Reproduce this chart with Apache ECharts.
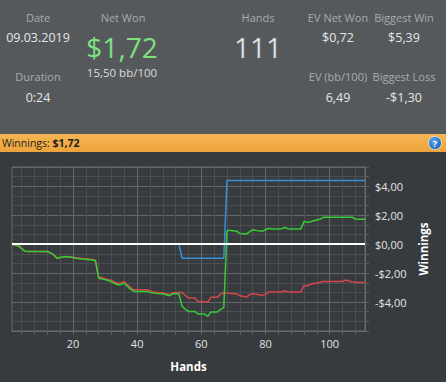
<!DOCTYPE html>
<html><head><meta charset="utf-8">
<script src="https://cdn.jsdelivr.net/npm/echarts@6/dist/echarts.min.js"></script>
<style>html,body{margin:0;padding:0;background:#383b3e;}#c{width:446px;height:382px;}</style>
</head><body><div id="c"></div>
<script>
// ---- data (hand 1..111) ----
const netWon = [0,-0.05,-0.12,-0.3,-0.48,-0.51,-0.51,-0.51,-0.51,-0.51,
-0.51,-0.51,-0.6,-0.74,-0.97,-0.92,-0.88,-0.85,-0.88,-0.92,
-0.97,-1.0,-1.03,-1.05,-1.07,-1.1,-1.15,-2.35,-2.41,-2.45,
-2.51,-2.6,-2.72,-2.8,-2.78,-2.7,-2.92,-3.12,-3.27,-3.27,
-3.27,-3.27,-3.27,-3.33,-3.38,-3.4,-3.42,-3.43,-3.5,-3.57,
-3.43,-3.43,-3.43,-4.3,-4.5,-4.65,-4.65,-4.65,-4.83,-4.83,
-4.83,-4.99,-4.69,-4.69,-4.69,-4.5,-4.38,0.95,0.94,0.92,
0.9,0.74,0.72,0.69,0.85,0.99,0.95,0.92,0.9,1.0,
1.1,1.05,1.05,1.05,1.07,1.15,1.07,1.05,1.05,1.05,
1.05,1.56,1.51,1.55,1.62,1.67,1.72,1.86,1.86,1.86,
1.86,1.86,1.86,1.86,1.86,1.86,1.86,1.74,1.72,1.72,1.72];
const noShowdown = [0,-0.05,-0.12,-0.3,-0.48,-0.51,-0.51,-0.51,-0.51,-0.51,
-0.51,-0.51,-0.6,-0.74,-0.97,-0.92,-0.88,-0.85,-0.88,-0.9,
-0.93,-0.96,-0.99,-1.01,-1.03,-1.06,-1.1,-2.25,-2.3,-2.38,
-2.46,-2.5,-2.62,-2.7,-2.66,-2.6,-2.8,-3.0,-3.15,-3.15,
-3.15,-3.15,-3.15,-3.22,-3.31,-3.33,-3.35,-3.36,-3.43,-3.5,
-3.36,-3.36,-3.34,-3.34,-3.55,-3.72,-3.72,-3.72,-3.96,-3.96,
-3.98,-4.0,-3.66,-3.66,-3.66,-3.45,-3.38,-3.38,-3.4,-3.42,
-3.43,-3.57,-3.6,-3.66,-3.5,-3.43,-3.46,-3.5,-3.54,-3.45,
-3.31,-3.31,-3.31,-3.31,-3.31,-3.22,-3.31,-3.31,-3.31,-3.31,
-3.31,-2.85,-2.88,-2.78,-2.72,-2.69,-2.65,-2.58,-2.58,-2.58,
-2.58,-2.58,-2.58,-2.58,-2.48,-2.55,-2.6,-2.63,-2.65,-2.65,-2.65];
const allInEV = [0,0,0,0,0,0,0,0,0,0,
0,0,0,0,0,0,0,0,0,0,
0,0,0,0,0,0,0,0,0,0,
0,0,0,0,0,0,0,0,0,0,
0,0,0,0,0,0,0,0,0,0,
0,0,0,-0.97,-0.97,-0.97,-0.97,-0.97,-0.97,-0.97,
-0.97,-0.97,-0.97,-0.97,-0.97,-0.97,-0.97,4.4,4.4,4.4,
4.4,4.4,4.4,4.4,4.4,4.4,4.4,4.4,4.4,4.4,
4.4,4.4,4.4,4.4,4.4,4.4,4.4,4.4,4.4,4.4,
4.4,4.4,4.4,4.4,4.4,4.4,4.4,4.4,4.4,4.4,
4.4,4.4,4.4,4.4,4.4,4.4,4.4,4.4,4.4,4.4,4.4];
const xTickLabels = [20,40,60,80,100];
const xMinorTicks = [4,8,12,16,20,24,28,32,36,40,44,48,52,56,60,64,68,72,76,80,84,88,92,96,100,104,108];
const yTickLabels = [-4,-2,0,2,4];

const F = '"Open Sans", "Noto Sans", sans-serif';
const toPairs = arr => arr.map((v, i) => [i + 1, v]);
const money = v => (v < 0 ? '-' : '') + '$' + Math.abs(v).toFixed(2).replace('.', ',');

const chart = echarts.init(document.getElementById('c'), null, {renderer: 'svg'});

function txt(x, y, text, size, color, weight, align) {
  return {type: 'text', x: x, y: y, silent: true, z: 10,
    style: {text: text, font: (weight || 'normal') + ' ' + size + 'px ' + F, fill: color,
      textAlign: align || 'center', textVerticalAlign: 'middle'}};
}
const LBL = '#a9abad', VAL = '#e6e6e6';

chart.setOption({
  backgroundColor: '#383b3e',
  animation: false,
  graphic: [
    {type: 'rect', shape: {x: 0, y: 0, width: 446, height: 134}, style: {fill: '#55595c'}, z: 1, silent: true},
    {type: 'rect', shape: {x: 0, y: 134, width: 446, height: 18}, z: 1, silent: true,
      style: {fill: new echarts.graphic.LinearGradient(0, 0, 0, 1, [{offset: 0, color: '#f6b653'}, {offset: 1, color: '#eda33b'}])}},
    txt(38, 17, 'Date', 11, LBL),
    txt(38, 37, '09.03.2019', 12.5, VAL),
    txt(38, 76, 'Duration', 11, LBL),
    txt(38, 97, '0:24', 12.5, VAL),
    txt(123, 17, 'Net Won', 11, LBL),
    txt(122, 47, '$1,72', 28, '#7fe07f'),
    txt(122, 72, '15,50 bb/100', 11.5, '#dcdcdc'),
    txt(258, 17, 'Hands', 11, LBL),
    txt(258, 47, '111', 28, '#dcdcdc'),
    txt(338, 17, 'EV Net Won', 11, LBL),
    txt(338, 37, '$0,72', 12.5, VAL),
    txt(404, 17, 'Biggest Win', 11, LBL),
    txt(404, 37, '$5,39', 12.5, VAL),
    txt(338, 76, 'EV (bb/100)', 11, LBL),
    txt(338, 97, '6,49', 12.5, VAL),
    txt(404, 76, 'Biggest Loss', 11, LBL),
    txt(404, 97, '-$1,30', 12.5, VAL),
    {type: 'text', x: 2, y: 143, z: 10, silent: true,
      style: {text: '{a|Winnings: }{b|$1,72}', textVerticalAlign: 'middle',
        rich: {a: {font: 'normal 10.5px ' + F, fill: '#1e1e1e'}, b: {font: 'bold 10.5px ' + F, fill: '#1e1e1e'}}}},
    {type: 'circle', shape: {cx: 435, cy: 143, r: 6.5}, z: 10, silent: true,
      style: {fill: new echarts.graphic.RadialGradient(0.4, 0.35, 0.7, [{offset: 0, color: '#5aa8ee'}, {offset: 1, color: '#1b5fae'}]), stroke: '#e8eef5', lineWidth: 0.8}},
    txt(435, 143.5, '?', 9, '#ffffff', 'bold')
  ],
  grid: {left: 12, right: 81, top: 167, bottom: 51, show: true, borderColor: '#66696c', borderWidth: 1, backgroundColor: 'transparent'},
  xAxis: [
    {type: 'value', min: 1, max: 111, position: 'bottom',
      axisLine: {show: true, onZero: false, lineStyle: {color: '#6a6d70'}},
      axisTick: {show: true, length: 4, customValues: xMinorTicks, lineStyle: {color: '#5d6063'}},
      axisLabel: {customValues: xTickLabels, color: '#e2e2e2', fontSize: 11, fontFamily: F, margin: 7},
      splitLine: {show: true, lineStyle: {color: '#4a4d51', width: 1}},
      name: 'Hands', nameLocation: 'middle', nameGap: 29,
      nameTextStyle: {color: '#ffffff', fontWeight: 'bold', fontSize: 11.5, fontFamily: F}},
    {type: 'value', min: 1, max: 111, position: 'top',
      axisLine: {show: false}, axisLabel: {show: false},
      axisTick: {show: false, customValues: xTickLabels},
      splitLine: {show: true, lineStyle: {color: '#65686b', width: 1}}}
  ],
  yAxis: [{
    type: 'value', position: 'right', min: -6, max: 16 / 3, interval: 2,
    axisLine: {show: true, lineStyle: {color: '#6a6d70'}},
    axisTick: {show: true, length: 4, lineStyle: {color: '#5d6063'}},
    minorTick: {show: true, splitNumber: 3, length: 4, lineStyle: {color: '#5d6063'}},
    minorSplitLine: {show: true, lineStyle: {color: '#4a4d51', width: 1}},
    splitLine: {show: true, lineStyle: {color: '#65686b', width: 1}},
    axisLabel: {customValues: yTickLabels, formatter: money, color: '#e2e2e2', fontSize: 11, fontFamily: F, margin: 10},
    name: 'Winnings', nameLocation: 'middle', nameGap: 50,
    nameTextStyle: {color: '#ffffff', fontWeight: 'bold', fontSize: 11.5, fontFamily: F}
  }],
  series: [
    {name: 'All-in EV', type: 'line', data: toPairs(allInEV), showSymbol: false, z: 2,
      lineStyle: {color: '#3a8fd6', width: 1.5}, itemStyle: {color: '#3a8fd6'}},
    {name: 'Without showdown', type: 'line', data: toPairs(noShowdown), showSymbol: false, z: 3,
      lineStyle: {color: '#d6464b', width: 1.5}, itemStyle: {color: '#d6464b'}},
    {name: 'Net won', type: 'line', data: toPairs(netWon), showSymbol: false, z: 4,
      lineStyle: {color: '#35cc35', width: 1.5}, itemStyle: {color: '#35cc35'}},
    {name: 'zero', type: 'line', data: [], z: 6, silent: true,
      markLine: {silent: true, symbol: 'none', label: {show: false}, animation: false,
        lineStyle: {color: '#ffffff', width: 2.2, type: 'solid'}, data: [{yAxis: 0}]}}
  ]
});
</script></body></html>
